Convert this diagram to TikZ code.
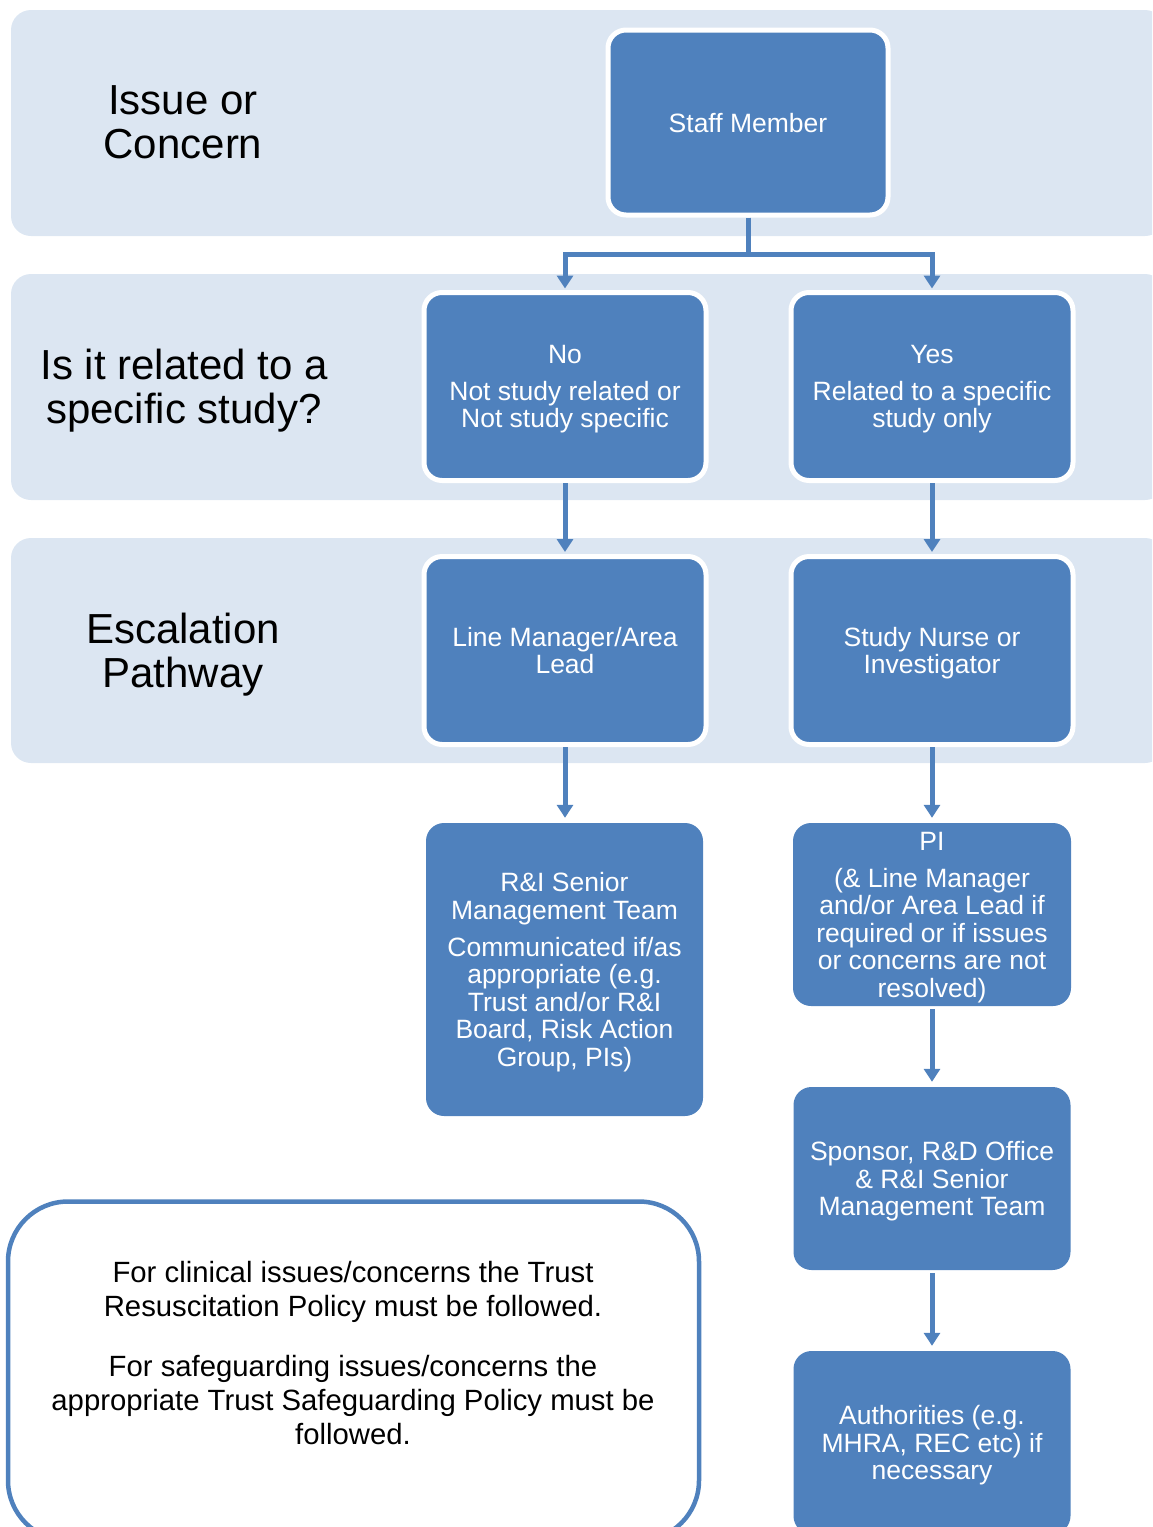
\documentclass[tikz,border=0pt]{standalone}
\usepackage{fontspec}
\setmainfont{Liberation Sans}
\usetikzlibrary{arrows.meta}
\definecolor{bandfill}{HTML}{DCE6F2}
\definecolor{boxblue}{HTML}{4F81BD}
\begin{document}
\begin{tikzpicture}[x=1pt,y=-1pt,
  bandbox/.style={fill=bandfill, rounded corners=20pt},
  flowbox/.style={fill=boxblue, rounded corners=18pt, text=white, align=center, inner sep=0pt,
    text depth=0pt, font=\fontsize{26.5}{27.5}\selectfont},
  bordered/.style={flowbox, draw=white, line width=5pt, minimum width=282pt, minimum height=188pt},
  plainbox/.style={flowbox, minimum width=277pt, minimum height=183pt},
  lbl/.style={align=center, text=black, inner sep=0pt, text depth=0pt, font=\fontsize{42}{44}\selectfont},
  conn/.style={draw=boxblue, line width=5pt, -{Triangle[width=16pt,length=13pt]}}]
\useasboundingbox (0,0) rectangle (1152,1527);
\clip (0,0) rectangle (1152,1527);

% bands
\fill[bandbox] (11,10) rectangle (1165,236);
\fill[bandbox] (11,274) rectangle (1165,500);
\fill[bandbox] (11,538) rectangle (1165,763);

% band labels
\node[lbl] (l1) at (183,122) {Issue or\\Concern};
\node[lbl] (l2) at (184,386) {Is it related to a\\specific study?};
\node[lbl] (l3) at (183,650) {Escalation\\Pathway};

% boxes
\node[bordered, minimum width=280pt, minimum height=185pt] (staff) at (748,122.5) {Staff Member};
\node[bordered] (no) at (565,386.5) {No\\[9.5pt]Not study related or\\Not study specific};
\node[bordered] (yes) at (932,386.5) {Yes\\[9.5pt]Related to a specific\\study only};
\node[bordered] (lm) at (565,650.5) {Line Manager/Area\\Lead};
\node[bordered] (sn) at (932,650.5) {Study Nurse or\\Investigator};
\node[plainbox, minimum height=293pt] (ri) at (564.5,969.5)
  {R\&I Senior\\Management Team\\[9.5pt]Communicated if/as\\appropriate (e.g.\\Trust and/or R\&I\\Board, Risk Action\\Group, PIs)};
\node[plainbox, minimum width=278pt] (pi) at (932,914.5)
  {PI\\[9.5pt](\& Line Manager\\and/or Area Lead if\\required or if issues\\or concerns are not\\resolved)};
\node[plainbox] (sp) at (932,1178.5) {Sponsor, R\&D Office\\\& R\&I Senior\\Management Team};
\node[plainbox] (au) at (932,1442.5) {Authorities (e.g.\\MHRA, REC etc) if\\necessary};

% note box
\node[draw=boxblue, line width=4.5pt, rounded corners=60pt, minimum width=691pt,
  minimum height=339pt, inner sep=0pt] (note) at (353.5,1371) {};
\node[align=center, inner sep=0pt, font=\fontsize{29.3}{34}\selectfont] (notetext) at (353,1353)
  {For clinical issues/concerns the Trust\\Resuscitation Policy must be followed.\\[26pt]
   For safeguarding issues/concerns the\\appropriate Trust Safeguarding Policy must be\\followed.};

% connectors
\draw[conn, shorten >=1.5pt] (staff.south) -- ++(0,37) -| (no.north);
\draw[conn, shorten >=1.5pt] (staff.south) -- ++(0,37) -| (yes.north);
\draw[conn, shorten >=2pt] (no.south) -- (lm.north);
\draw[conn, shorten >=2pt] (yes.south) -- (sn.north);
\draw[conn, shorten >=5pt] (lm.south) -- (lm.south |- ri.north);
\draw[conn, shorten >=5pt] (sn.south) -- (pi.north);
\draw[conn, shorten >=5pt, shorten <=3pt] (pi.south) -- (sp.north);
\draw[conn, shorten >=5pt, shorten <=3pt] (sp.south) -- (au.north);
\end{tikzpicture}
\end{document}
